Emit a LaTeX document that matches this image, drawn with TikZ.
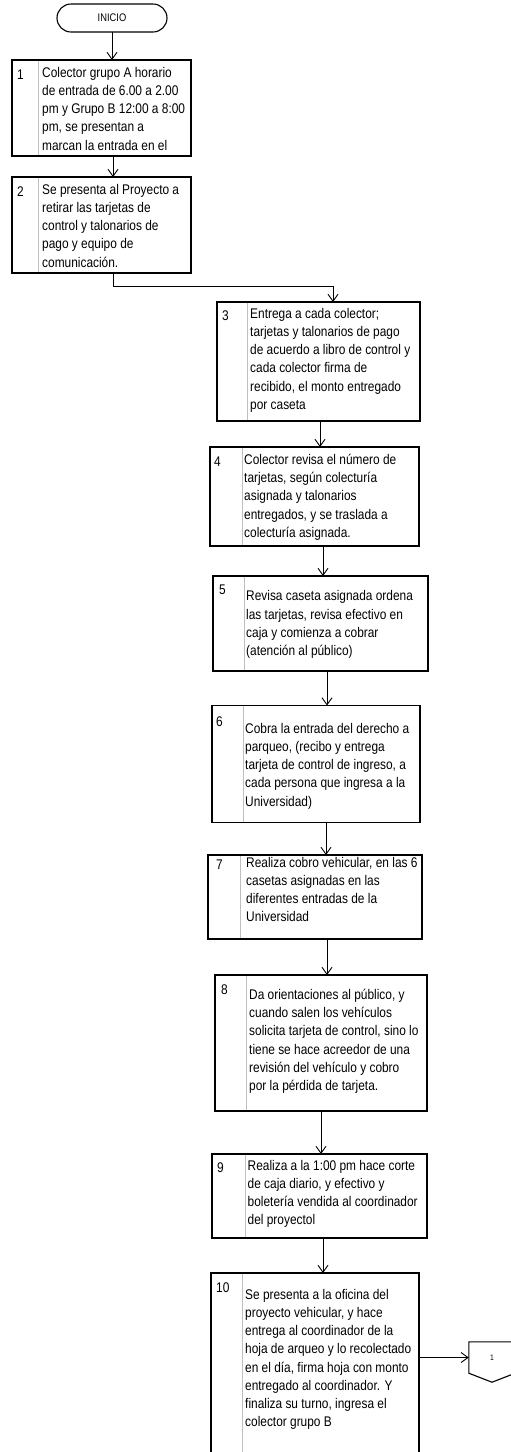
\documentclass[tikz,border=0pt]{standalone}
\usepackage{fontspec}
\setmainfont{Liberation Sans}[FakeStretch=0.85]
\usetikzlibrary{arrows.meta}

\begin{document}
\begin{tikzpicture}[x=1pt, y=-1pt, >={Straight Barb[length=7pt, width=10pt]},
    caja/.style={draw, line width=1.1pt, inner sep=0pt, outer sep=0pt},
    texto/.style={anchor=north west, inner sep=0pt, align=left,
      font=\fontsize{14}{18.2}\selectfont, execute at begin node=\strut},
    divisor/.style={gray!50, line width=0.7pt, shorten <=0.6pt, shorten >=0.6pt},
    flecha/.style={->, line width=0.9pt}]
  \useasboundingbox (0,0) rectangle (511,1452);
  \clip (0,0) rectangle (511,1452);

  % Inicio
  \node[caja, rounded corners=14pt, minimum width=110, minimum height=28,
        font=\fontsize{11}{12}\selectfont] (ini) at (112,18) {INICIO};

  % Cajas de los pasos
  \node[caja, minimum width=179, minimum height=96]  (c1)  at (101.5,108) {};
  \node[caja, minimum width=179, minimum height=96]  (c2)  at (101.5,225) {};
  \node[caja, minimum width=203, minimum height=119] (c3)  at (318.5,361.5) {};
  \node[caja, minimum width=209, minimum height=99]  (c4)  at (314.5,496.5) {};
  \node[caja, minimum width=215, minimum height=95]  (c5)  at (320.5,623.5) {};
  \node[caja, minimum width=208, minimum height=117] (c6)  at (316,764) {};
  \node[caja, minimum width=214, minimum height=84]  (c7)  at (315,897) {};
  \node[caja, minimum width=212, minimum height=136] (c8)  at (321,1043) {};
  \node[caja, minimum width=215, minimum height=84]  (c9)  at (319.5,1196) {};
  \node[caja, minimum width=208, minimum height=207] (c10) at (315,1376.5) {};

  % Lineas divisorias
  \foreach \c/\d in {c1/26, c2/26, c3/30, c4/32, c5/31, c6/31, c7/32, c8/31, c9/33, c10/31}
    \draw[divisor] ([xshift=\d pt]\c.north west) -- ([xshift=\d pt]\c.south west);

  % Numeros
  \foreach \i/\x/\y in {1/17/67, 2/17/184, 3/222/308, 4/214/454, 5/219/582,
                        6/216/714, 7/216/857, 8/221/982, 9/217/1160, 10/216/1280}
    \node[texto] (n\i) at (\x,\y) {\i};

  % Textos
  \begin{scope}
    \clip (c1.north west) rectangle ([yshift=4pt]c1.south east);
    \node[texto] (t1) at (42,67) {Colector grupo A horario\\de entrada de 6.00 a 2.00\\pm y Grupo B 12:00 a 8:00\\pm, se presentan a\\marcan la entrada en el};
  \end{scope}
  \node[texto] (t2) at (42,184) {Se presenta al Proyecto a\\retirar las tarjetas de\\control y talonarios de\\pago y equipo de\\comunicación.};
  \node[texto] (t3) at (250,308) {Entrega a cada colector;\\tarjetas y talonarios de pago\\de acuerdo a libro de control y\\cada colector firma de\\recibido, el monto entregado\\por caseta};
  \node[texto] (t4) at (244,454) {Colector revisa el número de\\tarjetas, según colecturía\\asignada y talonarios\\entregados, y se traslada a\\colecturía asignada.};
  \node[texto] (t5) at (246,590.5) {Revisa caseta asignada ordena\\las tarjetas, revisa efectivo en\\caja y comienza a cobrar\\(atención al público)};
  \node[texto] (t6) at (245,723) {Cobra la entrada del derecho a\\parqueo, (recibo y entrega\\tarjeta de control de ingreso, a\\cada persona que ingresa a la\\Universidad)};
  \node[texto] (t7) at (246,857) {Realiza cobro vehicular, en las 6\\casetas asignadas en las\\diferentes entradas de la\\Universidad};
  \node[texto] (t8) at (249,989) {Da orientaciones al público, y\\cuando salen los vehículos\\solicita tarjeta de control, sino lo\\tiene se hace acreedor de una\\revisión del vehículo y cobro\\por la pérdida de tarjeta.};
  \node[texto] (t9) at (247.5,1160) {Realiza a la 1:00 pm hace corte\\de caja diario, y efectivo y\\boletería vendida al coordinador\\del proyectol};
  \node[texto] (t10) at (245,1289) {Se presenta a la oficina del\\proyecto vehicular, y hace\\entrega al coordinador de la\\hoja de arqueo y lo recolectado\\en el día, firma hoja con monto\\entregado al coordinador. Y\\finaliza su turno, ingresa el\\colector grupo B};

  % Conector fuera de pagina
  \node[minimum width=46, minimum height=31, inner sep=0pt,
        font=\fontsize{8}{9}\selectfont] (fin) at (492,1357.5) {1};
  \draw[line width=1.1pt] (fin.south west) -- (fin.north west) -- (fin.north east)
    -- (fin.south east) -- ([yshift=-9pt]fin.south) -- cycle;

  % Flechas
  \draw[flecha] (ini.south) -- (ini.south |- c1.north);
  \draw[flecha] ([xshift=11.5pt]c1.south) -- ([xshift=11.5pt]c2.north);
  \draw[flecha] ([xshift=12pt]c2.south) -- ++(0,13) -| ([xshift=14.5pt]c3.north);
  \foreach \a/\b/\da/\db in {c3/c4/1.5/5.5, c4/c5/8.5/2.5, c5/c6/6.5/11,
                             c6/c7/10/11, c7/c8/12/6, c8/c9/0/1.5, c9/c10/3.5/8}
    \draw[flecha] ([xshift=\da pt]\a.south) -- ([xshift=\db pt]\b.north);
  \draw[flecha] (c10.east |- fin.west) -- (fin.west);
\end{tikzpicture}
\end{document}
